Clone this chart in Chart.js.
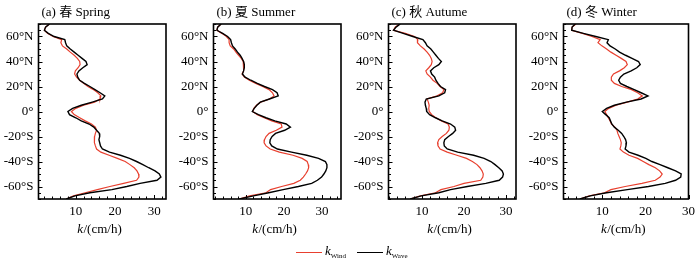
<!DOCTYPE html>
<html>
<head>
<meta charset="utf-8">
<script src="https://cdn.jsdelivr.net/npm/chart.js@4.4.1/dist/chart.umd.min.js"></script>
<style>
  html, body { margin: 0; padding: 0; background: #fff; }
  #wrap { position: relative; width: 700px; height: 258px; overflow: hidden; }
  .panel { position: absolute; top: 0; width: 175px; height: 258px; }
  .lg-line { position: absolute; height: 0; width: 26px; }
  .lg-text { position: absolute; font: italic 13px 'Liberation Serif', 'Times New Roman', serif; color: #000; white-space: nowrap; }
  .lg-text sub { font-style: normal; font-size: 7px; vertical-align: -3px; }
</style>
</head>
<body>
<div id="wrap">
  <div class="panel" style="left:0px"><canvas id="c0" width="175" height="258"></canvas></div>
  <div class="panel" style="left:175px"><canvas id="c1" width="175" height="258"></canvas></div>
  <div class="panel" style="left:350px"><canvas id="c2" width="175" height="258"></canvas></div>
  <div class="panel" style="left:525px"><canvas id="c3" width="175" height="258"></canvas></div>
  <div class="lg-line" style="left:296px; top:252px; border-top:1.5px solid #e8402f"></div>
  <div class="lg-text" id="lg0" style="left:325px; top:243px"></div>
  <div class="lg-line" style="left:357px; top:252px; border-top:1.5px solid #000"></div>
  <div class="lg-text" id="lg1" style="left:386px; top:243px"></div>
</div>
<script>
// ---- data ----
const latitudes = [70, 67.5, 65, 62.5, 60, 57.5, 55, 52.5, 50, 47.5, 45, 42.5, 40, 37.5, 35, 32.5, 30, 27.5, 25, 22.5, 20, 17.5, 15, 12.5, 10, 7.5, 5, 2.5, 0,
  -2.5, -5, -7.5, -10, -12.5, -15, -17.5, -20, -22.5, -25, -27.5, -30, -32.5, -35, -37.5, -40, -42.5, -45, -47.5, -50, -52.5, -55, -57.5, -60, -62.5, -65, -67.5, -70];

const springWave = [3.3, 2.3, 2.0, 3.0, 4.5, 7.2, 7.4, 7.7, 8.6, 9.6, 10.6, 11.6, 12.6, 12.9, 11.8, 10.8, 10.3, 10.5, 11.0, 12.2, 13.6, 14.9, 16.2, 17.4, 16.8, 14.2, 11.4, 9.2, 8.0,
  8.4, 10.0, 11.4, 13.4, 14.6, 15.3, 16.0, 16.1, 15.9, 16.1, 16.3, 16.8, 18.6, 21.4, 23.7, 25.5, 27.1, 28.6, 30.2, 31.3, 31.7, 30.7, 26.4, 23.0, 19.2, 13.6, 9.8, 7.6];
const springWind = [3.3, 2.3, 2.0, 2.8, 4.2, 6.4, 6.2, 6.6, 7.7, 8.6, 9.6, 10.4, 11.0, 11.1, 10.6, 9.9, 9.7, 10.2, 11.0, 12.0, 13.1, 14.5, 15.6, 16.4, 16.2, 14.8, 12.0, 10.0, 8.9,
  9.6, 11.0, 12.4, 14.0, 15.0, 15.3, 15.0, 14.8, 14.7, 14.8, 15.0, 15.3, 16.4, 18.5, 20.6, 22.6, 23.8, 24.9, 25.6, 26.0, 26.1, 25.5, 22.2, 18.7, 15.5, 12.4, 9.4, 7.6];

const summerWave = [3.5, 2.6, 2.4, 3.9, 5.2, 6.0, 6.2, 6.5, 7.2, 7.8, 8.5, 9.0, 9.4, 9.6, 9.6, 9.4, 9.1, 9.8, 11.3, 13.0, 14.9, 17.0, 18.2, 18.5, 16.2, 13.8, 12.9, 12.2, 11.7,
  13.3, 15.3, 17.6, 20.6, 21.7, 20.2, 17.8, 16.9, 16.4, 16.3, 16.8, 18.3, 22.0, 26.0, 29.1, 30.9, 31.3, 31.3, 31.0, 30.5, 29.9, 28.8, 27.3, 23.8, 19.8, 16.0, 12.0, 8.3];
const summerWind = [3.5, 2.6, 2.4, 3.7, 4.9, 5.6, 5.6, 5.9, 6.8, 7.4, 8.1, 8.8, 9.3, 9.5, 9.5, 9.3, 9.0, 9.6, 10.9, 12.6, 14.4, 16.1, 17.0, 17.4, 16.2, 13.9, 12.8, 12.1, 11.8,
  13.0, 14.8, 16.8, 19.3, 19.5, 18.0, 16.1, 15.3, 14.9, 14.8, 15.3, 16.4, 18.8, 22.4, 24.8, 26.1, 26.4, 26.5, 26.2, 25.7, 25.1, 24.3, 22.6, 19.4, 16.5, 15.3, 11.0, 8.3];

const autumnWave = [4.8, 3.8, 3.2, 5.5, 7.8, 10.2, 10.8, 11.2, 12.1, 12.7, 13.3, 13.9, 14.6, 14.0, 12.8, 12.0, 12.3, 13.0, 13.3, 13.8, 14.4, 15.6, 15.4, 14.0, 11.0, 10.7, 10.8, 11.0, 11.1,
  11.8, 13.2, 14.8, 16.8, 17.8, 18.0, 17.3, 16.3, 15.4, 15.2, 15.3, 16.0, 18.5, 22.3, 24.8, 26.4, 27.4, 28.3, 29.1, 29.4, 29.2, 28.4, 25.2, 20.8, 16.8, 14.0, 9.8, 7.2];
const autumnWind = [4.6, 3.6, 3.2, 6.0, 8.2, 9.0, 8.9, 9.6, 10.5, 11.2, 11.8, 12.2, 12.4, 12.2, 11.6, 10.9, 11.2, 12.0, 12.6, 13.6, 14.3, 15.2, 14.9, 13.6, 11.2, 11.5, 11.7, 11.6, 11.7,
  12.3, 13.3, 14.6, 16.2, 16.5, 16.4, 15.8, 14.8, 14.0, 13.7, 13.8, 14.3, 16.0, 18.3, 20.6, 22.0, 23.1, 23.8, 24.3, 24.6, 24.5, 24.0, 20.0, 17.6, 14.5, 13.2, 9.6, 7.2];

const winterWave = [3.7, 3.0, 2.9, 5.6, 8.5, 11.4, 11.1, 11.8, 13.0, 14.0, 15.4, 16.9, 18.4, 18.8, 18.0, 16.7, 15.0, 14.2, 13.8, 14.2, 15.7, 17.4, 19.0, 20.6, 19.0, 15.6, 12.8, 11.0, 10.0,
  10.8, 11.6, 11.9, 12.2, 12.8, 13.7, 14.5, 15.0, 15.4, 15.6, 15.5, 15.3, 16.2, 18.3, 20.1, 21.5, 23.4, 25.2, 27.0, 28.3, 28.2, 27.0, 24.6, 20.7, 15.8, 11.0, 7.2, 4.8];
const winterWind = [3.9, 3.0, 2.9, 5.4, 7.6, 9.5, 9.0, 9.9, 11.0, 12.0, 13.2, 14.4, 15.5, 15.8, 15.1, 14.0, 12.6, 12.1, 12.1, 12.8, 14.5, 16.8, 18.2, 19.3, 18.2, 15.8, 13.2, 11.5, 10.6,
  11.0, 11.4, 11.8, 12.1, 12.9, 13.4, 13.6, 13.9, 14.2, 14.4, 14.3, 14.1, 14.9, 16.2, 18.2, 19.5, 20.8, 22.3, 23.3, 23.9, 23.4, 22.3, 19.2, 15.3, 12.0, 10.5, 7.0, 4.8];

const panelTitles = ['(a) 春 Spring', '(b) 夏 Summer', '(c) 秋 Autume', '(d) 冬 Winter'];
const windSeries = [springWind, summerWind, autumnWind, winterWind];
const waveSeries = [springWave, summerWave, autumnWave, winterWave];
const xMins = [0.5, 1.5, 2, 1];
const xMaxs = [33, 35, 32.4, 30];
const xTickValues = [10, 20, 30];
const yTickValues = [60, 40, 20, 0, -20, -40, -60];
const seriesNames = ['Wind', 'Wave'];
const xAxisTitle = ['k', '/(cm/h)'];

// ---- legend text ----
['lg0', 'lg1'].forEach((id, i) => {
  const el = document.getElementById(id);
  el.textContent = 'k';
  const s = document.createElement('sub');
  s.textContent = seriesNames[i];
  el.appendChild(s);
});

const SERIF = "'Liberation Serif', 'Times New Roman', 'Noto Sans CJK SC', serif";

function yLabel(v) {
  if (v > 0) return v + '°N';
  if (v < 0) return v + '°S';
  return '0°';
}

const framePlugin = {
  id: 'frame',
  afterDatasetsDraw(chart) {
    const { ctx, chartArea } = chart;
    const { left, right, top, bottom } = chartArea;
    const x = chart.scales.x, y = chart.scales.y;
    ctx.save();
    // minor / major inward ticks
    ctx.strokeStyle = '#000';
    ctx.lineWidth = 1;
    ctx.beginPath();
    for (let v = -70; v <= 70; v += 5) {
      const py = Math.round(y.getPixelForValue(v)) + 0.5;
      const len = (v % 20 === 0) ? 4 : 2.5;
      ctx.moveTo(left, py); ctx.lineTo(left + len, py);
    }
    for (let v = Math.ceil(x.min / 2) * 2; v <= x.max; v += 2) {
      const px = Math.round(x.getPixelForValue(v)) + 0.5;
      const len = (v % 10 === 0) ? 4 : 2.5;
      ctx.moveTo(px, bottom); ctx.lineTo(px, bottom - len);
    }
    ctx.stroke();
    // frame
    ctx.lineWidth = 1.6;
    ctx.strokeRect(left, top, right - left, bottom - top);
    // panel title
    ctx.fillStyle = '#000';
    ctx.font = '13px ' + SERIF;
    ctx.textBaseline = 'middle';
    ctx.textAlign = 'left';
    ctx.fillText(chart.options.plugins.panelTitle, left + 3, 13);
    // x-axis title: italic k + normal rest
    const italic = 'italic 13px ' + SERIF;
    const normal = '13px ' + SERIF;
    ctx.font = italic; const w1 = ctx.measureText(xAxisTitle[0]).width;
    ctx.font = normal; const w2 = ctx.measureText(xAxisTitle[1]).width;
    const cx = (left + right) / 2 - 3;
    const sx = cx - (w1 + w2) / 2;
    ctx.font = italic; ctx.fillText(xAxisTitle[0], sx, 230);
    ctx.font = normal; ctx.fillText(xAxisTitle[1], sx + w1 + 0.5, 230);
    ctx.restore();
  }
};

for (let i = 0; i < 4; i++) {
  const wind = windSeries[i].map((v, k) => ({ x: v, y: latitudes[k] }));
  const wave = waveSeries[i].map((v, k) => ({ x: v, y: latitudes[k] }));
  new Chart(document.getElementById('c' + i), {
    type: 'scatter',
    data: {
      datasets: [
        { label: 'k' + seriesNames[0], data: wind, showLine: true, borderColor: '#e8402f', borderWidth: 1.2, pointRadius: 0, tension: 0, order: 2 },
        { label: 'k' + seriesNames[1], data: wave, showLine: true, borderColor: '#000000', borderWidth: 1.4, pointRadius: 0, tension: 0, order: 1 }
      ]
    },
    options: {
      responsive: false,
      animation: false,
      events: [],
      layout: { padding: { top: 24, right: 9, left: 0, bottom: 0 } },
      plugins: {
        legend: { display: false },
        title: { display: false },
        tooltip: { enabled: false },
        panelTitle: panelTitles[i]
      },
      scales: {
        x: {
          type: 'linear',
          min: xMins[i], max: xMaxs[i],
          grid: { display: false, drawTicks: false },
          border: { display: false },
          afterBuildTicks: (s) => { s.ticks = xTickValues.filter(v => v >= s.min && v <= s.max).map(v => ({ value: v })); },
          afterFit: (s) => { s.height = 59; },
          ticks: { color: '#000', padding: 5, maxRotation: 0, font: { family: SERIF, size: 13 } }
        },
        y: {
          type: 'linear',
          min: -70, max: 70,
          grid: { display: false, drawTicks: false },
          border: { display: false },
          afterBuildTicks: (s) => { s.ticks = yTickValues.map(v => ({ value: v })); },
          afterFit: (s) => { s.width = 38.5; },
          ticks: { color: '#000', padding: 5, font: { family: SERIF, size: 13 }, callback: (v) => yLabel(v) }
        }
      }
    },
    plugins: [framePlugin]
  });
}
</script>
</body>
</html>
